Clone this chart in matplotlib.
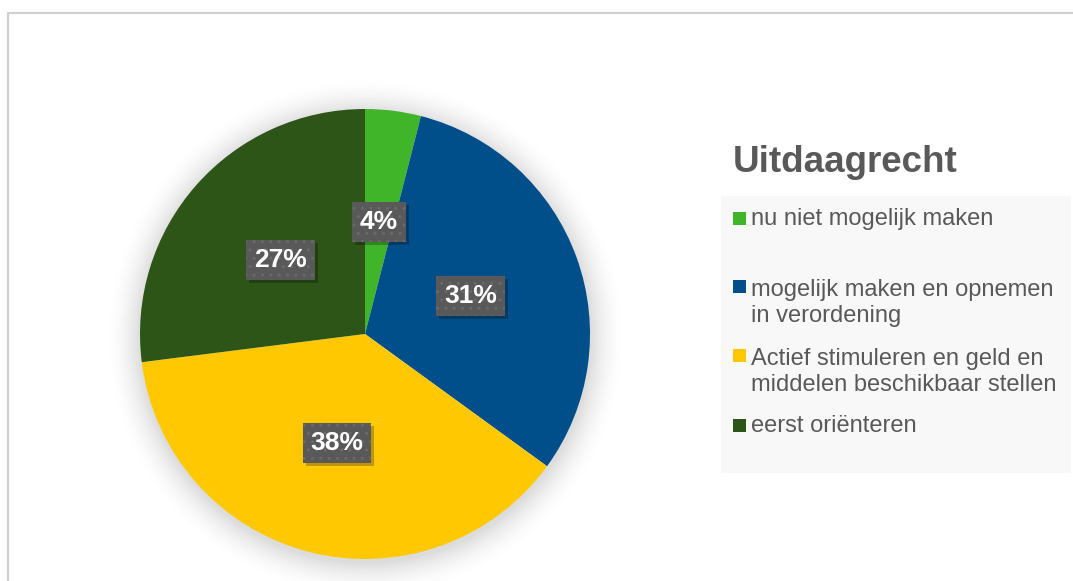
import numpy as np
import matplotlib
matplotlib.use('Agg')
import matplotlib.pyplot as plt
from matplotlib.patches import Rectangle
from matplotlib.transforms import IdentityTransform

plt.rcParams['font.family'] = ['Liberation Sans', 'DejaVu Sans']

# Data
categories = ['nu niet mogelijk maken',
              'mogelijk maken en opnemen\nin verordening',
              'Actief stimuleren en geld en\nmiddelen beschikbaar stellen',
              'eerst oriënteren']
values = [4, 31, 38, 27]
colors = ['#41B52A', '#004F8B', '#FFC800', '#2E5518']
title = 'Uitdaagrecht'

W, H = 1073, 581
TXT = '#595959'


def px(x, y):
    # pixel coordinates from the top-left corner -> figure fraction
    return x / W, 1 - y / H


fig = plt.figure(figsize=(W / 100, H / 100), dpi=100)
fig.patch.set_facecolor('white')

# soft shadow around the pie
cx, cy, R = 365, 337, 225
bg = fig.add_axes([0, 0, 1, 1], zorder=0)
yy, xx = np.mgrid[0:H, 0:W]
d = np.hypot(xx - cx, yy - cy)
a = np.clip(1 - (d - R) / 38, 0, 1) ** 2 * 0.14
a[d < R - 5] = 0
img = np.zeros((H, W, 4))
img[..., 3] = a
bg.imshow(img, extent=(0, W, H, 0), interpolation='bilinear')
bg.set_xlim(0, W)
bg.set_ylim(H, 0)
bg.axis('off')

# chart border
fig.patches.append(Rectangle(px(8, 700), 1.2, (700 - 13) / H, transform=fig.transFigure,
                             fill=False, edgecolor='#D0D0D0', linewidth=1.5, zorder=1))

# legend background
lx0, ly0, lx1, ly1 = 721, 196, 1071, 473
fig.patches.append(Rectangle(px(lx0, ly1), (lx1 - lx0) / W, (ly1 - ly0) / H,
                             transform=fig.transFigure, facecolor='#F8F8F8',
                             edgecolor='none', zorder=1))

# pie
ax = fig.add_axes([(365 - R) / W, (H - 334 - R) / H, 2 * R / W, 2 * R / H], zorder=2)
wedges, texts, autotexts = ax.pie(values, colors=colors, startangle=90, counterclock=False,
                                  autopct='%.0f%%', pctdistance=0.5, radius=1,
                                  wedgeprops=dict(linewidth=0),
                                  textprops=dict(color='white', fontsize=19, fontweight='bold'))
ax.set_xlim(-1, 1)
ax.set_ylim(-1, 1)
ax.set_aspect('equal')
ax.axis('off')

for t in autotexts:
    t.set_zorder(5)
    t.set_bbox(dict(boxstyle='square,pad=0.3', facecolor='#595959', edgecolor='#6A6A6A',
                    linewidth=0, hatch='..'))

# legend
fig.text(*px(733, 172), title, fontsize=26.5, fontweight='bold', color=TXT,
         va='baseline', ha='left', zorder=3)

baselines = [225, 293, 362, 432]
for lab, col, yb in zip(categories, colors, baselines):
    fig.patches.append(Rectangle(px(733, yb), 13 / W, 13 / H, transform=fig.transFigure,
                                 facecolor=col, edgecolor='none', zorder=3))
    nl = lab.count('\n')
    fig.text(*px(751, yb + 29 * nl), lab, fontsize=17, color=TXT, va='baseline', ha='left',
             linespacing=1.25, zorder=3)

# shadows behind the percentage boxes
fig.canvas.draw()
for t in autotexts:
    bb = t.get_bbox_patch().get_window_extent()
    ax.add_patch(Rectangle((bb.x0 + 3, bb.y0 - 3), bb.width, bb.height,
                           transform=IdentityTransform(), facecolor='black',
                           alpha=0.25, linewidth=0, zorder=4))

fig.savefig('out.png', dpi=100)
